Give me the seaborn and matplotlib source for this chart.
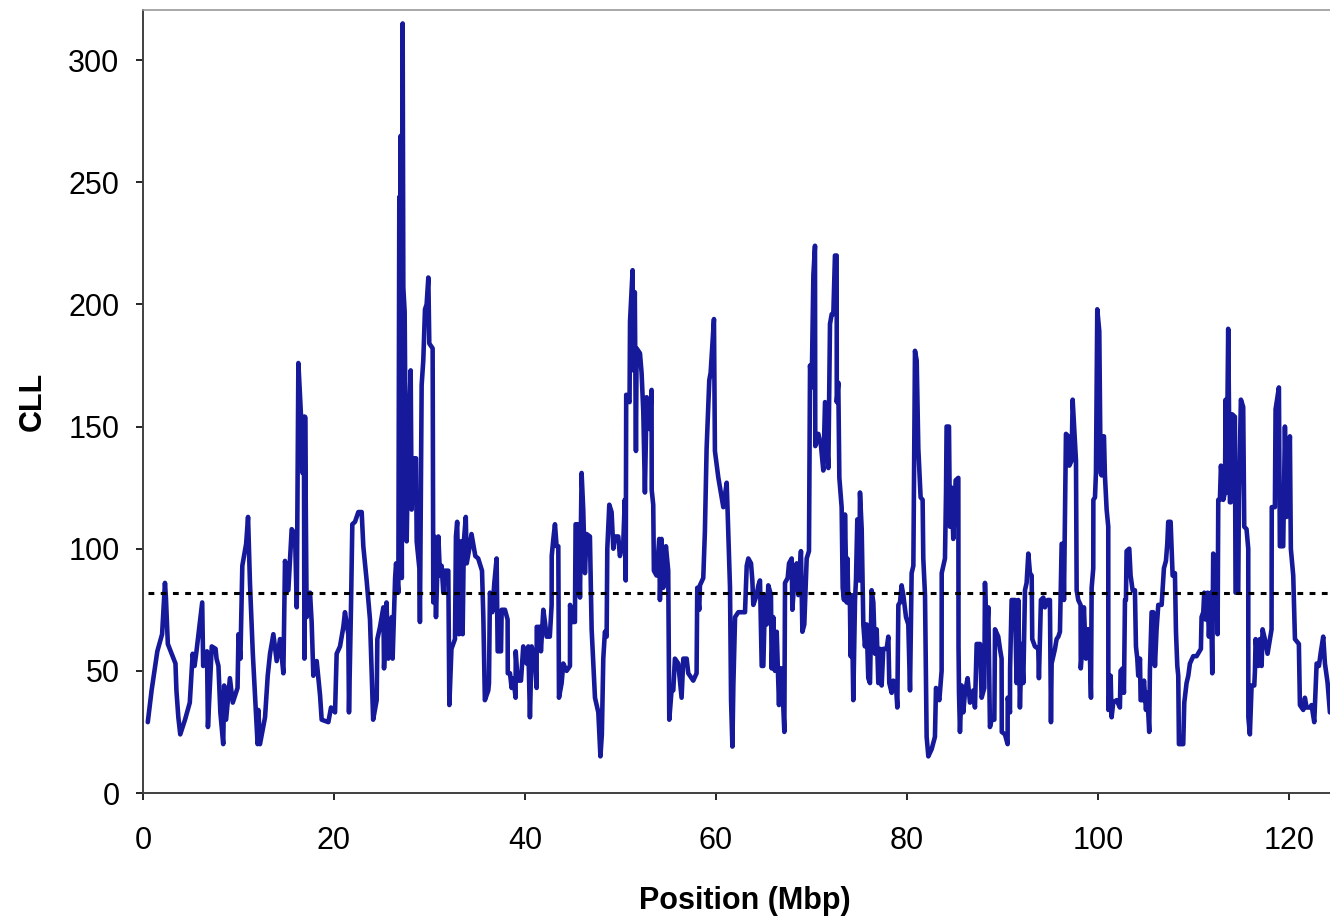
import numpy as np
import pandas as pd
import matplotlib
matplotlib.use("Agg")
import matplotlib.pyplot as plt
import seaborn as sns

# ---- data (position in Mbp, CLL value) ----
pos_a = [0.5, 0.9, 1.5, 2.0, 2.3, 2.4, 2.6, 3.0, 3.4, 3.5,
         3.7, 3.9, 4.4, 4.9, 5.2, 5.4, 5.6, 6.2, 6.3, 6.7,
         6.8, 7.2, 7.6, 7.7, 7.9, 8.1, 8.4, 8.5, 8.7, 9.1,
         9.4, 9.9, 10.0, 10.2, 10.4, 10.8, 11.0, 11.2, 11.5, 11.7,
         12.0]
cll_a = [29, 42, 58, 65, 86, 80, 61, 57, 53, 42,
         31, 24, 30, 37, 57, 52, 58, 78, 52, 58,
         27, 60, 59, 55, 52, 33, 20, 44, 30, 47,
         37, 43, 65, 55, 93, 102, 113, 86, 57, 42,
         20]

pos_b = [12.08, 12.25, 12.78, 13.06, 13.3, 13.65, 14.0, 14.35, 14.7, 14.87,
         15.22, 15.57, 15.92, 16.1, 16.27, 16.55, 16.7, 16.85, 16.9, 16.97,
         17.14, 17.49, 17.66, 17.84, 18.19, 18.54, 18.71, 19.41, 19.69, 20.11,
         20.28, 20.63, 20.98, 21.15, 21.5, 21.57, 21.78, 21.92, 22.2, 22.55,
         22.9, 23.07, 23.42, 23.77, 24.1]
cll_b = [34, 20, 31, 48, 57, 65, 54, 63, 49, 95,
         83, 108, 106, 76, 176, 154, 131, 154, 55, 154,
         72, 82, 70, 48, 54, 40, 30, 29, 35, 33,
         57, 60, 68, 74, 65, 33, 76, 110, 111, 115,
         115, 101, 87, 71, 30]

pos_c = [24.47, 24.54, 24.82, 25.17, 25.24, 25.5, 25.69, 26.04, 26.14, 26.4,
         26.5, 26.74, 26.84, 26.9, 26.98, 27.1, 27.19, 27.26, 27.4, 27.5,
         27.61, 27.78, 28.03, 28.13, 28.3, 28.59, 28.66, 28.94, 29.0, 29.18,
         29.35, 29.53, 29.7, 29.88, 29.98, 30.33, 30.4, 30.5, 30.68, 30.93,
         31.1, 31.27, 31.45, 31.6, 31.97, 32.08, 32.3, 32.67, 32.77, 32.9,
         33.1, 33.27, 33.47, 33.6, 33.8, 33.9, 34.17, 34.4, 34.8, 35.1,
         35.5, 35.64, 35.8, 36.16]
cll_c = [38, 63, 68, 76, 51, 78, 55, 72, 55, 88,
         94, 82, 244, 90, 269, 88, 315, 207, 197, 145,
         103, 144, 173, 116, 137, 137, 103, 92, 70, 167,
         177, 198, 200, 211, 184, 182, 78, 105, 72, 105,
         89, 93, 82, 91, 91, 36, 59, 63, 105, 111,
         65, 103, 65, 103, 113, 94, 100, 106, 97, 96,
         91, 72, 38, 42]

pos_d = [36.23, 36.33, 36.58, 36.79, 37.03, 37.14, 37.49, 37.56, 37.9, 38.18,
         38.2, 38.43, 38.6, 38.78, 39.02, 39.03, 39.23, 39.58, 39.82, 40.17,
         40.35, 40.52, 40.7, 41.05, 41.22, 41.23, 41.57, 41.67, 41.92, 42.09,
         42.27, 42.6, 42.79, 42.8, 42.97, 43.14, 43.31, 43.49, 43.56, 43.84,
         44.01, 44.36, 44.71, 44.72, 44.95, 45.23, 45.3, 45.58, 45.76, 45.93,
         46.1, 46.28, 46.45, 46.8, 46.98, 47.15, 47.33, 47.68]
cll_d = [45, 82, 74, 86, 96, 58, 58, 75, 75, 71,
         49, 49, 43, 47, 39, 58, 46, 46, 60, 53,
         60, 31, 60, 54, 43, 68, 68, 58, 75, 70,
         64, 64, 77, 97, 104, 110, 101, 101, 39, 45,
         53, 50, 52, 77, 70, 70, 110, 110, 80, 131,
         116, 90, 106, 105, 67, 53, 39, 33]

pos_e = [47.9, 48.05, 48.2, 48.37, 48.55, 48.62, 48.83, 49.07, 49.25, 49.42,
         49.77, 49.94, 50.12, 50.29, 50.45, 50.55, 50.6, 50.95, 51.0, 51.27,
         51.34, 51.5, 51.62, 51.69, 52.04, 52.21, 52.39, 52.56, 52.74, 53.02,
         53.26, 53.27, 53.43, 53.5, 53.78, 54.06, 54.13, 54.3, 54.48, 54.76,
         55.0, 55.11, 55.35, 55.53, 55.7, 56.05, 56.4, 56.58, 56.93, 57.1,
         57.62, 57.97, 58.04, 58.25, 58.32, 58.67, 58.84, 59.02, 59.3, 59.44,
         59.79, 59.89]
cll_e = [15, 24, 55, 66, 64, 100, 118, 115, 100, 105,
         105, 97, 100, 102, 120, 87, 163, 160, 193, 214,
         173, 205, 140, 182, 180, 172, 156, 123, 162, 149,
         165, 124, 118, 91, 89, 104, 79, 104, 84, 101,
         91, 30, 42, 42, 55, 53, 39, 55, 55, 49,
         46, 49, 84, 75, 85, 88, 107, 141, 169, 172,
         194, 140]

pos_f = [60.25, 60.77, 61.12, 61.23, 61.37, 61.47, 61.58, 61.72, 61.82, 62.0,
         62.34, 63.04, 63.22, 63.39, 63.67, 63.81, 63.91, 64.26, 64.44, 64.61,
         64.79, 64.96, 65.14, 65.31, 65.48, 65.76, 65.83, 66.0, 66.18, 66.36,
         66.6, 66.7, 66.88, 67.16, 67.23, 67.51, 67.65, 67.93, 68.0, 68.2,
         68.45, 68.63, 68.9, 69.05, 69.25, 69.5, 69.74, 69.85, 70.02, 70.2,
         70.37, 70.4, 70.72, 71.0, 71.24, 71.42, 71.77, 71.94, 72.12]
cll_f = [129, 117, 127, 114, 96, 84, 38, 19, 44, 72,
         74, 74, 93, 96, 94, 87, 77, 81, 85, 87,
         52, 52, 81, 69, 85, 81, 51, 72, 50, 66,
         36, 51, 51, 25, 86, 88, 94, 96, 75, 87,
         94, 81, 99, 66, 69, 96, 99, 175, 166, 212,
         224, 142, 147, 142, 132, 160, 133, 192, 196]

pos_g = [72.29, 72.46, 72.64, 72.65, 72.81, 72.92, 73.16, 73.27, 73.41, 73.51,
         73.69, 73.76, 73.86, 74.03, 74.1, 74.21, 74.38, 74.56, 74.66, 74.8,
         75.01, 75.08, 75.26, 75.43, 75.6, 75.78, 75.95, 76.13, 76.3, 76.48,
         76.65, 76.83, 77.0, 77.18, 77.35, 77.52, 77.87, 78.05, 78.15, 78.4,
         78.57, 78.85, 78.99, 79.1, 79.27, 79.44, 79.62, 79.9, 80.14, 80.32,
         80.49, 80.67, 80.84, 81.02, 81.19, 81.43, 81.64, 81.71, 81.89, 82.06,
         82.24, 82.59, 82.93, 83.04, 83.39, 83.63, 83.64, 83.98, 84.09]
cll_g = [196, 220, 220, 160, 168, 129, 117, 84, 79, 114,
         78, 96, 78, 77, 56, 81, 38, 79, 87, 112,
         87, 123, 108, 69, 60, 69, 47, 45, 83, 78,
         57, 67, 45, 59, 44, 59, 59, 64, 45, 41,
         46, 44, 35, 77, 78, 85, 81, 72, 69, 42,
         90, 93, 181, 177, 141, 121, 120, 96, 81, 23,
         15, 18, 23, 43, 38, 50, 90, 96, 123]

pos_h = [84.15, 84.4, 84.5, 84.68, 84.85, 85.1, 85.38, 85.4, 85.45, 85.55,
         85.73, 85.9, 86.07, 86.35, 86.6, 86.95, 87.12, 87.3, 87.65, 87.82,
         88.1, 88.17, 88.34, 88.52, 88.69, 88.87, 89.15, 89.22, 89.56, 89.74,
         89.91, 89.93, 90.26, 90.54, 90.55, 90.79, 90.8, 90.96, 91.31, 91.48,
         91.66, 91.83, 92.01, 92.18, 92.36, 92.53, 92.71, 92.88, 93.06, 93.12,
         93.4, 93.75, 93.82, 94.03, 94.28, 94.45, 94.73, 94.97, 95.08, 95.15,
         95.5, 95.67, 95.85, 96.02]
cll_h = [150, 150, 109, 125, 104, 128, 129, 60, 41, 25,
         44, 33, 41, 47, 37, 42, 35, 61, 61, 39,
         43, 86, 63, 76, 27, 30, 30, 67, 64, 59,
         55, 25, 24, 20, 39, 33, 51, 79, 79, 45,
         79, 35, 61, 45, 83, 86, 98, 90, 89, 63,
         60, 59, 47, 79, 80, 76, 79, 79, 29, 53,
         59, 63, 64, 66]

pos_i = [96.2, 96.37, 96.44, 96.65, 96.89, 97.0, 97.24, 97.35, 97.49, 97.7,
         97.77, 97.94, 98.18, 98.2, 98.39, 98.53, 98.74, 98.88, 99.09, 99.27,
         99.34, 99.51, 99.52, 99.69, 99.79, 99.93, 100.14, 100.28, 100.38, 100.49,
         100.63, 100.73, 100.91, 101.08, 101.09, 101.33, 101.43, 101.6, 101.95, 102.3,
         102.37, 102.58, 102.72, 102.83, 102.93, 103.0, 103.28, 103.42, 103.63, 103.87,
         103.98, 104.12, 104.22, 104.4, 104.47, 104.68, 104.82, 105.03, 105.16, 105.37,
         105.44, 105.62, 105.79, 105.97, 106.14, 106.32, 106.67, 106.91, 107.12, 107.26,
         107.36, 107.61, 107.82, 108.06]
cll_i = [102, 102, 79, 147, 146, 134, 136, 161, 151, 136,
         83, 79, 77, 51, 61, 76, 55, 67, 67, 39,
         84, 92, 120, 121, 131, 198, 189, 131, 130, 146,
         146, 130, 116, 109, 34, 48, 31, 37, 38, 35,
         50, 51, 41, 79, 79, 99, 100, 89, 83, 83,
         60, 55, 48, 55, 38, 38, 46, 34, 41, 25,
         50, 74, 74, 52, 67, 77, 77, 92, 95, 102,
         111, 111, 89, 90]

pos_j = [108.17, 108.31, 108.41, 108.48, 108.93, 109.04, 109.28, 109.46, 109.63, 109.98,
         110.33, 110.78, 110.85, 111.03, 111.13, 111.27, 111.48, 111.62, 111.83, 111.97,
         112.07, 112.25, 112.42, 112.53, 112.6, 112.77, 112.88, 113.12, 113.3, 113.37,
         113.47, 113.64, 113.82, 113.92, 114.06, 114.34, 114.41, 114.69, 114.76, 114.97,
         115.21, 115.32, 115.56, 115.74, 115.75, 115.91, 116.09, 116.37, 116.44, 116.51,
         116.79, 116.96, 117.14, 117.24, 117.48, 117.76, 118.01, 118.18, 118.2, 118.53,
         118.6, 118.95, 119.05, 119.4, 119.58, 119.75, 120.1, 120.2, 120.45, 120.63,
         121.04, 121.15, 121.5, 121.67, 121.85, 122.2, 122.37, 122.65, 122.9, 123.14,
         123.35, 123.59, 123.77, 124.05, 124.29]
cll_j = [66, 52, 48, 20, 20, 37, 45, 48, 53, 56,
         56, 59, 72, 74, 82, 71, 82, 64, 82, 49,
         98, 97, 82, 65, 120, 120, 134, 120, 123, 161,
         123, 190, 119, 119, 155, 154, 82, 82, 120, 161,
         158, 109, 108, 100, 31, 24, 44, 44, 50, 63,
         52, 63, 52, 67, 63, 57, 63, 67, 117, 117,
         157, 166, 101, 101, 150, 113, 146, 100, 89, 63,
         61, 36, 34, 39, 35, 35, 36, 29, 53, 52,
         58, 64, 53, 45, 33]

threshold = 82
x_ticks = [0, 20, 40, 60, 80, 100, 120]
y_ticks = [0, 50, 100, 150, 200, 250, 300]
x_label = "Position (Mbp)"
y_label = "CLL"

position = pos_a + pos_b + pos_c + pos_d + pos_e + pos_f + pos_g + pos_h + pos_i + pos_j
cll = cll_a + cll_b + cll_c + cll_d + cll_e + cll_f + cll_g + cll_h + cll_i + cll_j
df = pd.DataFrame({"position": position, "cll": cll})

# ---- style ----
sns.set_theme(style="white")
plt.rcParams["font.family"] = ["Liberation Sans", "DejaVu Sans"]

fig = plt.figure(figsize=(13.3, 9.22), dpi=100)
ax = fig.add_axes([143 / 1330, 1 - 793 / 922, (1330 - 143) / 1330, (793 - 10) / 922])

sns.lineplot(data=df, x="position", y="cll", sort=False, estimator=None,
             color="#15199A", linewidth=3.3, ax=ax)
ax.axhline(threshold, xmin=0.004, xmax=1.0, color="black", linewidth=2.2,
           linestyle=(0, (1.9, 2.1)))

ax.set_xlim(0, 124.3)
ax.set_ylim(0, 320.5)
ax.set_xticks(x_ticks)
ax.set_yticks(y_ticks)
ax.tick_params(axis="both", which="both", direction="out", length=5, width=1.2,
               labelsize=22, colors="black", bottom=True, left=True)
ax.tick_params(axis="x", pad=19)
ax.tick_params(axis="y", pad=12)

for s in ["left", "bottom"]:
    ax.spines[s].set_color("#404040")
    ax.spines[s].set_linewidth(1.4)
ax.spines["top"].set_color("#9a9a9a")
ax.spines["top"].set_linewidth(1.2)
ax.spines["right"].set_visible(False)

ax.set_xlabel(x_label, fontsize=22, fontweight="bold", color="black")
ax.set_ylabel(y_label, fontsize=22, fontweight="bold", color="black")
ax.xaxis.label.set_va("center")
ax.yaxis.label.set_va("center")
ax.xaxis.set_label_coords(0.507, -0.138)
ax.yaxis.set_label_coords(-0.093, 0.5)

fig.savefig("out.png", dpi=100)
